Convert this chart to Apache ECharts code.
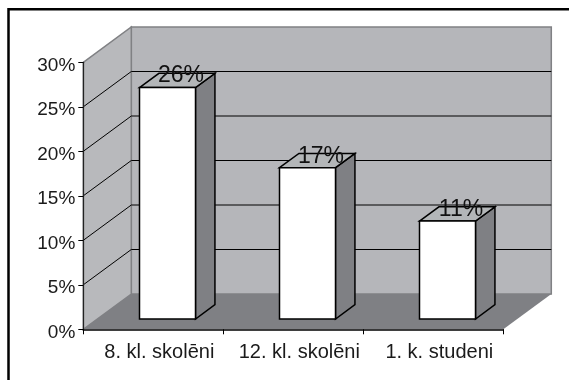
<!DOCTYPE html>
<html>
<head>
<meta charset="utf-8">
<style>html,body{margin:0;padding:0;background:#fff}#c{width:569px;height:380px}</style>
<script src="https://cdn.jsdelivr.net/npm/echarts@6/dist/echarts.min.js"></script>
</head>
<body>
<div id="c"></div>
<script>
// Survey shares by respondent group
const categories = ['8. kl. skolēni', '12. kl. skolēni', '1. k. studeni'];
const shares = [26, 17, 11];
const tickValues = [0, 5, 10, 15, 20, 25, 30];

// Oblique projection of the chart box
const DEPTH_X = 48, DEPTH_Y = 35.3;
const BAR_NEAR = 0.215, BAR_FAR = 0.62, BAR_WIDTH = 56;

const WALL = '#b5b6ba', SIDE = '#b8b9bc', FLOOR = '#7f8084', EDGE = '#808184';
const BAR_TOP = '#b3b6b8', BAR_SIDE = '#7f8084', INK = '#000';

const chart = echarts.init(document.getElementById('c'), null, {renderer: 'canvas'});

function poly(points, fill, stroke, width, z) {
  return {type: 'polygon', z2: z, shape: {points},
    style: {fill: fill, stroke: stroke || null, lineWidth: width || 0, lineJoin: 'miter'}};
}
function seg(x1, y1, x2, y2, stroke, width, z) {
  return {type: 'line', z2: z, shape: {x1, y1, x2, y2}, style: {stroke, lineWidth: width}};
}

// Walls, floor and gridlines of the box
function renderBox(params, api) {
  if (params.dataIndex !== 0) return {type: 'group', children: []};
  const size = api.size([1, 0]);
  const first = api.coord([0, 0]);
  const x0 = first[0] - size[0] / 2, y0 = first[1];
  const x1 = x0 + size[0] * categories.length;
  const yTop = api.coord([0, tickValues[tickValues.length - 1]])[1];
  const dx = DEPTH_X, dy = DEPTH_Y;
  const out = [
    poly([[x0 + dx, yTop - dy], [x1 + dx, yTop - dy], [x1 + dx, y0 - dy], [x0 + dx, y0 - dy]], WALL, EDGE, 1.5, 1),
    poly([[x0, yTop], [x0 + dx, yTop - dy], [x0 + dx, y0 - dy], [x0, y0]], SIDE, EDGE, 1.5, 2),
    poly([[x0, y0], [x0 + dx, y0 - dy], [x1 + dx, y0 - dy], [x1, y0]], FLOOR, null, 0, 3)
  ];
  tickValues.forEach(v => {
    if (v === 0 || v === 30) return;
    const y = api.coord([0, v])[1];
    out.push(seg(x0, y, x0 + dx, y - dy, INK, 1, 4));
    out.push(seg(x0 + dx, y - dy, x1 + dx, y - dy, INK, 1, 4));
  });
  return {type: 'group', children: out};
}

// One prism per category, standing on the floor plane
function renderBar(params, api) {
  const i = api.value(0);
  const base = api.coord([i, 0]);
  const top = api.coord([i, api.value(1)]);
  const xc = base[0] + 14.2;
  const lift = 10.3;
  const l = xc - BAR_WIDTH / 2, r = xc + BAR_WIDTH / 2;
  const b = base[1] - lift, t = top[1] - lift;
  const ox = DEPTH_X * (BAR_FAR - BAR_NEAR), oy = DEPTH_Y * (BAR_FAR - BAR_NEAR);
  return {type: 'group', children: [
    poly([[r, t], [r + ox, t - oy], [r + ox, b - oy], [r, b]], BAR_SIDE, INK, 1.5, 10),
    poly([[l, t], [l + ox, t - oy], [r + ox, t - oy], [r, t]], BAR_TOP, INK, 1.5, 10),
    poly([[l, t], [r, t], [r, b], [l, b]], '#fff', INK, 1.5, 11),
    {type: 'text', z2: 20, style: {
      text: api.value(1) + '%', x: xc + 13.5, y: t,
      fill: '#111', font: '23px "Liberation Sans"', align: 'center', verticalAlign: 'bottom'
    }}
  ]};
}

chart.setOption({
  animation: false,
  backgroundColor: '#fff',
  graphic: [{
    type: 'polyline', silent: true,
    shape: {points: [[8.5, 380], [8.5, 9.2], [569, 9.2]]},
    style: {stroke: '#000', lineWidth: 2.5, fill: null}
  }],
  grid: {left: 83.3, top: 62.3, width: 420, height: 267},
  xAxis: {
    type: 'category', data: categories,
    axisLine: {show: true, lineStyle: {color: '#000', width: 1.5}},
    axisTick: {show: true, alignWithLabel: false, length: 5, lineStyle: {color: '#000', width: 1}},
    axisLabel: {color: '#1a1a1a', fontSize: 20, fontFamily: 'Liberation Sans', margin: 13, interval: 0,
      padding: [0, 0, 0, 12]},
    z: 30
  },
  yAxis: {
    type: 'value', min: 0, max: 30, interval: 5,
    axisLine: {show: true, lineStyle: {color: '#222', width: 1.2}},
    axisTick: {show: true, length: 5, lineStyle: {color: '#000', width: 1}},
    axisLabel: {color: '#1a1a1a', fontSize: 19, fontFamily: 'Liberation Sans', margin: 8, formatter: '{value}%',
      verticalAlign: 'top', lineHeight: 6},
    splitLine: {show: false},
    z: 30
  },
  series: [
    {type: 'custom', renderItem: renderBox, data: categories.map((c, i) => [i, 0]), z: 1, silent: true},
    {type: 'custom', renderItem: renderBar, data: shares.map((v, i) => [i, v]), z: 5, silent: true,
     encode: {x: 0, y: 1}}
  ]
});
</script>
</body>
</html>
